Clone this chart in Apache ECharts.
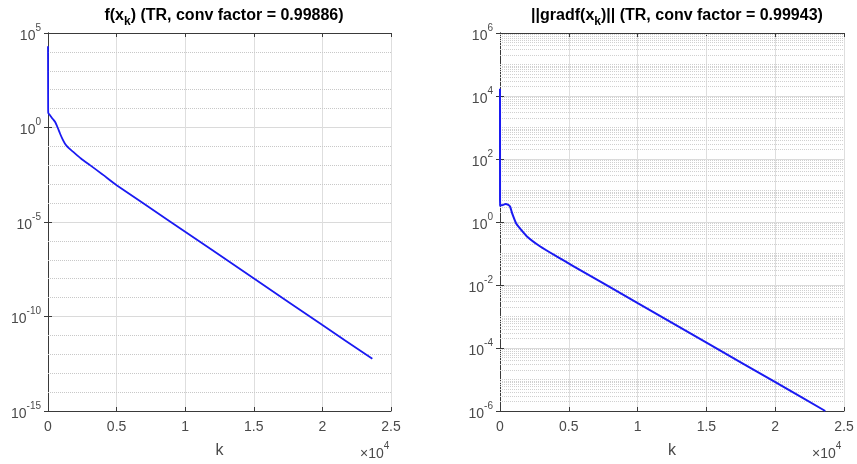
<!DOCTYPE html>
<html>
<head>
<meta charset="utf-8">
<title>TR convergence</title>
<style>
  html, body { margin: 0; padding: 0; background: #fff; }
  #chart { width: 857px; height: 464px; }
</style>
</head>
<body>
<div id="chart"></div>
<script src="https://cdn.jsdelivr.net/npm/echarts@6/dist/echarts.min.js"></script>
<script>
// iteration numbers and values
var kF = [0, 4, 10, 20, 146, 350, 510, 700, 875, 1050, 1240, 1500, 1845, 2400, 3060, 4000, 5000, 8890, 15040, 20000, 23640];
var fVals = [2e4, 1e3, 12, 6.0, 4.5, 2.8, 2.0, 1.0, 0.48, 0.25, 0.14, 0.083, 0.051, 0.023, 0.0102, 3.2e-3, 8.9e-4, 1.07e-5, 1.0e-8, 3.5e-11, 5.8e-13];

var kG = [0, 3, 6, 10, 20, 150, 400, 600, 730, 850, 965, 1150, 1330, 1940, 2900, 4110, 5320, 10040, 15040, 20010, 23640];
var gVals = [1.7e4, 5, 3.2, 4.2, 3.4, 3.4, 3.7, 3.5, 3.1, 2.1, 1.5, 0.95, 0.72, 0.355, 0.17, 0.081, 0.040, 2.6e-3, 1.45e-4, 8.2e-6, 1.0e-6];

var xTicks = [0, 5000, 10000, 15000, 20000, 25000];
var fRange = [1e-15, 1e5];
var gRange = [1e-6, 1e6];

var titles = ['f(x{sub|k}) (TR, conv factor = 0.99886)', '||gradf(x{sub|k})|| (TR, conv factor = 0.99943)'];

var FONT = '"Liberation Sans", Arial, Helvetica, sans-serif';
var AX = '#3a3a3a';
var TXT = '#4a4a4a';

function pairs(xs, ys) {
  return xs.map(function (x, i) { return [x, ys[i]]; });
}

// MATLAB style minor log grid lines, as horizontal segments across the box
function minorLines(range, every) {
  var lo = Math.round(Math.log10(range[0])), hi = Math.round(Math.log10(range[1]));
  var out = [];
  function add(v) { out.push({ coords: [[xTicks[0], v], [xTicks[xTicks.length - 1], v]] }); }
  for (var e = lo; e < hi; e++) {
    if ((e - lo) % every !== 0) add(Math.pow(10, e));
    if (every === 2) {
      for (var m = 2; m <= 9; m++) add(m * Math.pow(10, e));
    }
  }
  return out;
}

function xAxes(gi) {
  return [{
    type: 'value', gridIndex: gi, min: 0, max: 25000, interval: 5000,
    name: 'k', nameLocation: 'middle', nameGap: 32,
    nameTextStyle: { fontFamily: FONT, fontSize: 16, color: TXT },
    axisLine: { lineStyle: { color: AX } },
    axisTick: { inside: true, length: 4, lineStyle: { color: AX } },
    axisLabel: { fontFamily: FONT, fontSize: 14, color: TXT, margin: 9,
      formatter: function (v) { return String(v / 1e4); } },
    splitLine: { show: true, lineStyle: { color: '#dedede', width: 1 } }
  }, {
    type: 'value', gridIndex: gi, position: 'top', min: 0, max: 25000, interval: 5000,
    axisLine: { show: true, lineStyle: { color: AX } },
    axisTick: { inside: true, length: 4, lineStyle: { color: AX } },
    axisLabel: { show: false }, splitLine: { show: false }
  }];
}

function yAxes(gi, range, step) {
  return [{
    type: 'log', logBase: 10, gridIndex: gi, min: range[0], max: range[1], interval: step,
    axisLine: { show: true, lineStyle: { color: AX } },
    axisTick: { inside: true, length: 4, lineStyle: { color: AX } },
    axisLabel: {
      fontFamily: FONT, color: TXT, margin: 7,
      formatter: function (v) {
        return '{b|10}{s|' + Math.round(Math.log10(v)) + '}';
      },
      rich: {
        b: { fontFamily: FONT, fontSize: 14, color: TXT, lineHeight: 20, verticalAlign: 'bottom' },
        s: { fontFamily: FONT, fontSize: 10, color: TXT, verticalAlign: 'top' }
      }
    },
    splitLine: { show: true, lineStyle: { color: '#dadada', width: 1 } }
  }, {
    type: 'log', logBase: 10, gridIndex: gi, position: 'right', min: range[0], max: range[1], interval: step,
    axisLine: { show: true, lineStyle: { color: AX } },
    axisTick: { inside: true, length: 4, lineStyle: { color: AX } },
    axisLabel: { show: false }, splitLine: { show: false }
  }];
}

var chart = echarts.init(document.getElementById('chart'));

var titleRich = {
  sub: { fontFamily: FONT, fontSize: 12, fontWeight: 'bold', color: '#000', verticalAlign: 'bottom', lineHeight: 24 }
};
var xRich = {
  t: { fontFamily: FONT, fontSize: 14, fontWeight: 'normal', color: TXT, lineHeight: 20, verticalAlign: 'bottom' },
  s: { fontFamily: FONT, fontSize: 10, fontWeight: 'normal', color: TXT, verticalAlign: 'top' }
};

var option = {
  backgroundColor: '#fff',
  animation: false,
  title: [
    { text: titles[0], left: 219, top: -1, textAlign: 'center',
      textStyle: { fontFamily: FONT, fontSize: 16, fontWeight: 'bold', color: '#000', rich: titleRich } },
    { text: titles[1], left: 672, top: -1, textAlign: 'center',
      textStyle: { fontFamily: FONT, fontSize: 16, fontWeight: 'bold', color: '#000', rich: titleRich } },
    { text: '{t|\u00d710}{s|4}', left: 355, top: 436, textStyle: { fontWeight: 'normal', rich: xRich } },
    { text: '{t|\u00d710}{s|4}', left: 807, top: 436, textStyle: { fontWeight: 'normal', rich: xRich } }
  ],
  grid: [
    { left: 48, top: 33, width: 343, height: 378 },
    { left: 500, top: 33, width: 344, height: 378 }
  ],
  xAxis: xAxes(0).concat(xAxes(1)),
  yAxis: yAxes(0, fRange, 5).concat(yAxes(1, gRange, 2)),
  series: [
    { type: 'lines', coordinateSystem: 'cartesian2d', xAxisIndex: 0, yAxisIndex: 0, z: 1, silent: true,
      lineStyle: { type: 'dotted', color: '#c8c8c8', width: 1, opacity: 1 },
      data: minorLines(fRange, 5) },
    { type: 'lines', coordinateSystem: 'cartesian2d', xAxisIndex: 2, yAxisIndex: 2, z: 1, silent: true,
      lineStyle: { type: 'dotted', color: '#d0d0d0', width: 1, opacity: 1 },
      data: minorLines(gRange, 2) },
    { type: 'line', xAxisIndex: 0, yAxisIndex: 0, data: pairs(kF, fVals),
      showSymbol: false, smooth: 0.2, lineStyle: { color: '#1a1af2', width: 1.8 } },
    { type: 'line', xAxisIndex: 2, yAxisIndex: 2, data: pairs(kG, gVals),
      showSymbol: false, smooth: 0.2, lineStyle: { color: '#1a1af2', width: 2 } }
  ]
};
chart.setOption(option);
</script>
</body>
</html>
